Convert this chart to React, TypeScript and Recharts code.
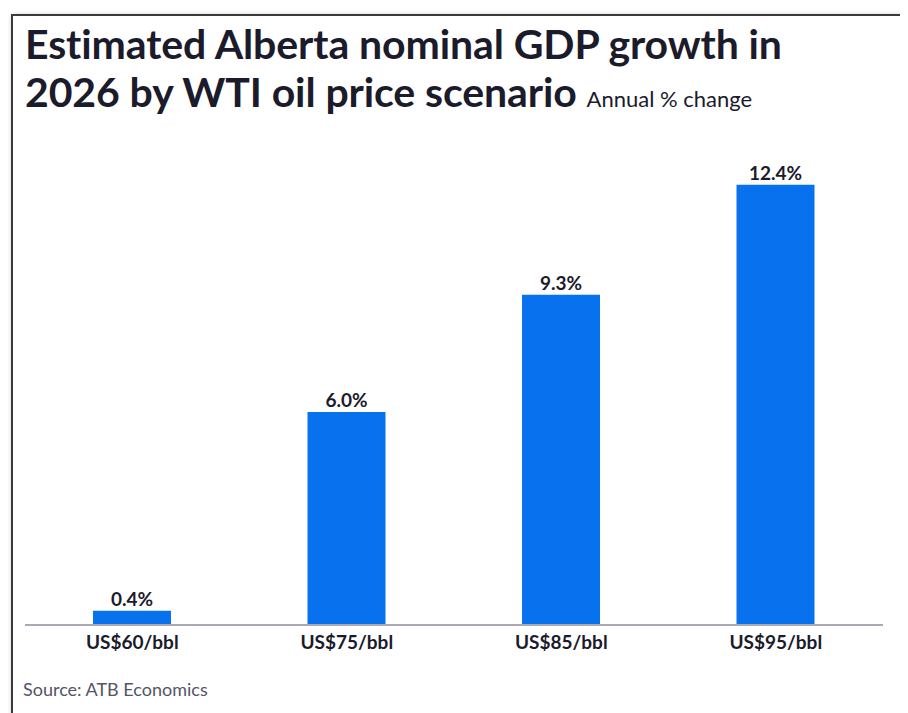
import React from 'react';
import { BarChart, Bar, XAxis, YAxis, LabelList } from 'recharts';

// WTI oil price scenarios and estimated 2026 nominal GDP growth (annual % change)
const SCENARIOS = ['US$60/bbl', 'US$75/bbl', 'US$85/bbl', 'US$95/bbl'];
const GROWTH = [0.4, 6.0, 9.3, 12.4];

const data = SCENARIOS.map((name, i) => ({ name, growth: GROWTH[i] }));

const BLUE = '#0872EE';
const INK = '#1b1b2b';

const titleLine: React.CSSProperties = {
  position: 'absolute',
  left: 12,
  fontSize: 41,
  fontWeight: 700,
  lineHeight: '46px',
  letterSpacing: -0.1,
  whiteSpace: 'nowrap',
};

export default function App() {
  return (
    <div
      style={{
        position: 'relative',
        marginLeft: 3,
        marginTop: 6,
        width: 888,
        height: 720,
        border: '2px solid #3a3a3a',
        boxShadow: '2px 2px 6px rgba(0,0,0,0.35)',
        background: '#fff',
        fontFamily: 'Lato, sans-serif',
        color: INK,
      }}
    >
      <div style={{ ...titleLine, top: 5 }}>Estimated Alberta nominal GDP growth in</div>
      <div style={{ ...titleLine, top: 53 }}>
        2026 by WTI oil price scenario{' '}
        <span style={{ fontSize: 22, fontWeight: 400, letterSpacing: 0 }}>Annual % change</span>
      </div>

      <div style={{ position: 'absolute', left: 0, top: 0 }}>
        <BarChart
          width={888}
          height={700}
          data={data}
          margin={{ top: 112, right: 18, left: 12, bottom: 61 }}
        >
          <XAxis
            dataKey="name"
            height={30}
            axisLine={{ stroke: '#a9a9b8', strokeWidth: 2 }}
            tickLine={false}
            tick={{ fill: INK, fontSize: 19, fontWeight: 700 }}
            dy={3}
            interval={0}
          />
          <YAxis hide domain={[0, 14]} />
          <Bar dataKey="growth" fill={BLUE} barSize={78} isAnimationActive={false}>
            <LabelList
              dataKey="growth"
              position="top"
              offset={5}
              formatter={(v: number) => `${v.toFixed(1)}%`}
              style={{ fill: INK, fontSize: 19, fontWeight: 700 }}
            />
          </Bar>
        </BarChart>
      </div>

      <div
        style={{
          position: 'absolute',
          left: 10,
          top: 662,
          fontSize: 18,
          color: '#555566',
        }}
      >
        Source: ATB Economics
      </div>
    </div>
  );
}
